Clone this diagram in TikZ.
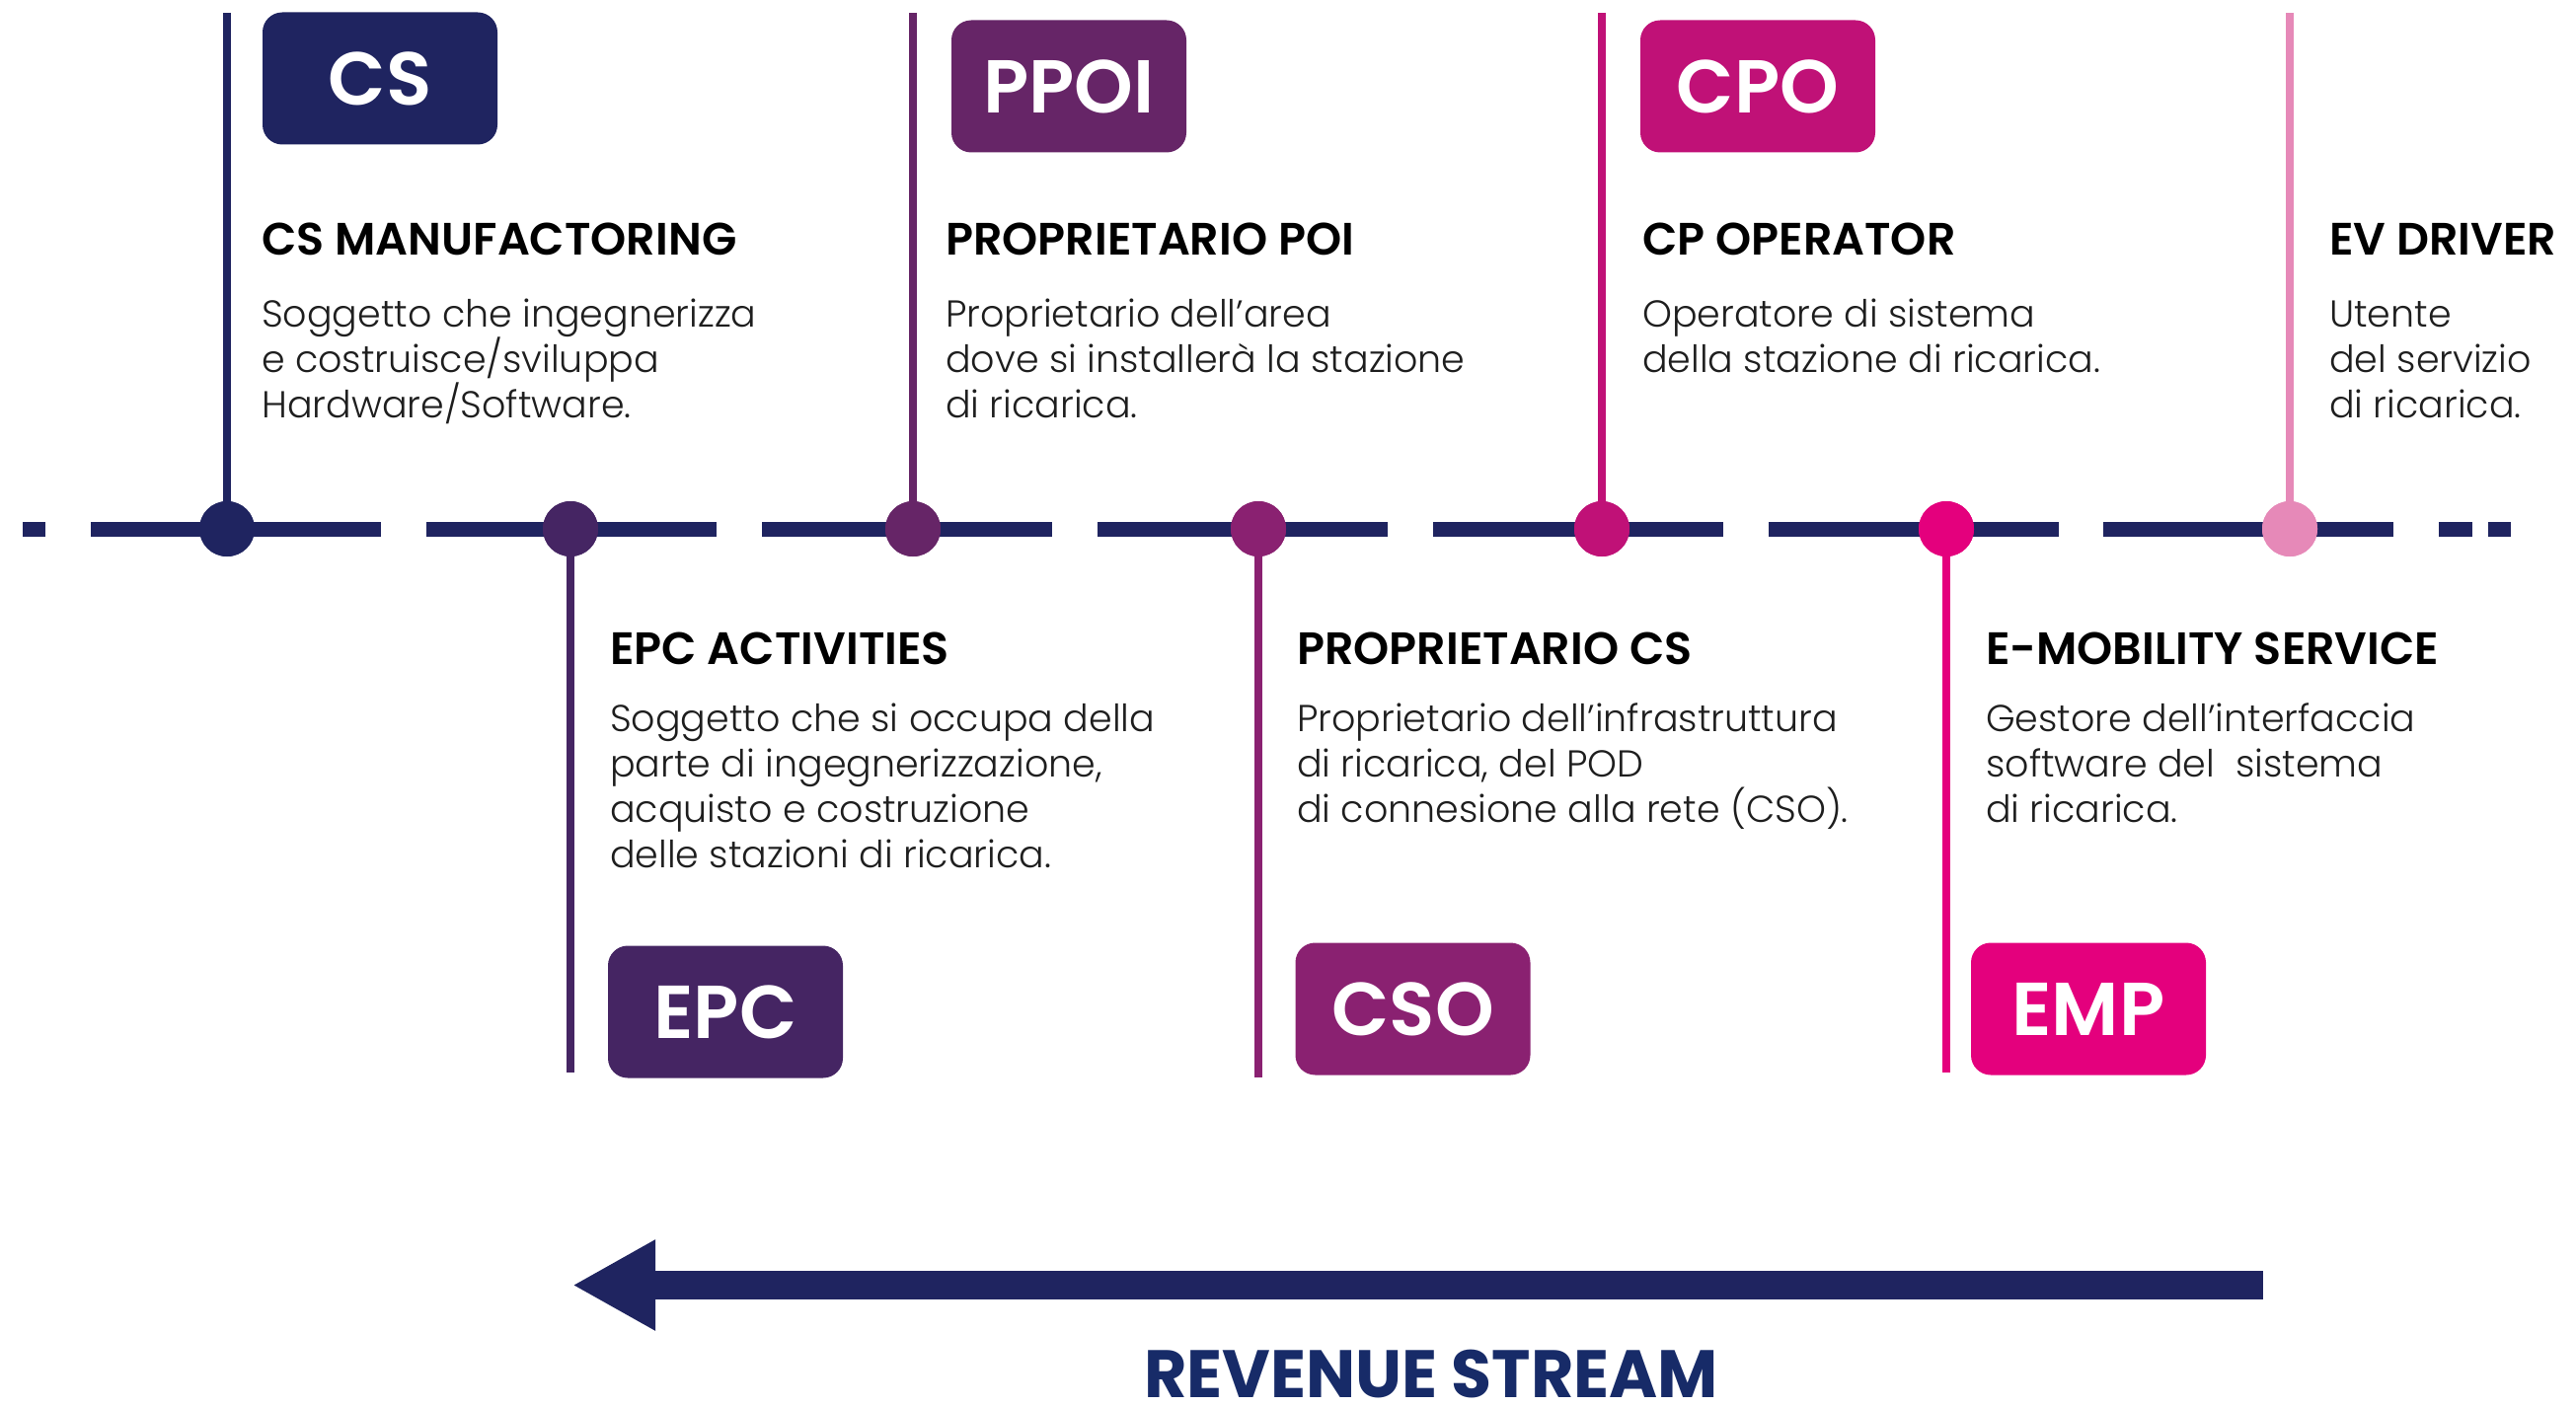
\documentclass[tikz,border=0pt]{standalone}
\usepackage{fontspec}
\setmainfont{Poppins}
\newfontfamily\lightf{Poppins Light}
\newfontfamily\semif{Poppins SemiBold}
\newfontfamily\medf{Poppins Medium}
\usetikzlibrary{arrows.meta}
\definecolor{navy}{RGB}{31,36,96}
\definecolor{epcc}{RGB}{69,37,99}
\definecolor{ppoic}{RGB}{102,37,103}
\definecolor{csoc}{RGB}{138,33,113}
\definecolor{cpoc}{RGB}{192,17,119}
\definecolor{empc}{RGB}{228,0,125}
\definecolor{evc}{RGB}{230,137,184}
\definecolor{revc}{RGB}{23,43,104}
\definecolor{bodyc}{RGB}{30,30,30}
\begin{document}
\begin{tikzpicture}[x=1pt,y=-1pt,
  tag/.style={rounded corners=20pt, minimum width=238pt, minimum height=134pt, inner sep=0pt, text=white, font=\semif\fontsize{76}{76}\selectfont},
  head/.style={anchor=base west, inner sep=0pt, text=black, font=\semif\fontsize{46}{46}\selectfont},
  body/.style={anchor=north west, inner sep=0pt, align=left, text=bodyc, font=\lightf\fontsize{38}{46}\selectfont},
  dot/.style={circle, minimum size=56pt, inner sep=0pt},
  stem/.style={line width=8pt},
  dashseg/.style={fill=navy}
]
\useasboundingbox (0,0) rectangle (2610,1426);

% dashed timeline
\foreach \a/\b in {23/46,92/386,432/726,772/1066,1112/1406,1452/1746,1792/2086,2131/2425,2471/2505,2521/2544}
  \fill[dashseg] (\a,528.5) rectangle (\b,543.5);

% dots (named anchors for the stems)
\node[dot, fill=navy]  (d1) at (230,536) {};
\node[dot, fill=epcc]  (d2) at (578,536) {};
\node[dot, fill=ppoic] (d3) at (925,536) {};
\node[dot, fill=csoc]  (d4) at (1275,536) {};
\node[dot, fill=cpoc]  (d5) at (1623,536) {};
\node[dot, fill=empc]  (d6) at (1972,536) {};
\node[dot, fill=evc]   (d7) at (2320,536) {};

% stems
\coordinate (t1) at (230,13);
\coordinate (b2) at (578,1087);
\coordinate (t3) at (925,13);
\coordinate (b4) at (1275,1092);
\coordinate (t5) at (1623,13);
\coordinate (b6) at (1972,1087);
\coordinate (t7) at (2320,13);
\draw[stem, navy]  (t1) -- (d1.center);
\draw[stem, epcc]  (d2.center) -- (b2);
\draw[stem, ppoic] (t3) -- (d3.center);
\draw[stem, csoc]  (d4.center) -- (b4);
\draw[stem, cpoc]  (t5) -- (d5.center);
\draw[stem, empc]  (d6.center) -- (b6);
\draw[stem, evc]   (t7) -- (d7.center);

% dots drawn again on top of stems
\fill[navy]  (d1) circle (28);
\fill[epcc]  (d2) circle (28);
\fill[ppoic] (d3) circle (28);
\fill[csoc]  (d4) circle (28);
\fill[cpoc]  (d5) circle (28);
\fill[empc]  (d6) circle (28);
\fill[evc]   (d7) circle (28);

% tags
\node[tag, fill=navy]  (cs)   at (385,79.5)    {CS};
\node[tag, fill=ppoic] (ppoi) at (1083,87.5)   {PPOI};
\node[tag, fill=cpoc]  (cpo)  at (1781,87.5)   {CPO};
\node[tag, fill=epcc]  (epc)  at (735,1025.5)  {EPC};
\node[tag, fill=csoc]  (cso)  at (1431.5,1022.5) {CSO};
\node[tag, fill=empc]  (emp)  at (2116,1022.5) {EMP};

% upper headings and texts
\node[head] (h1) at (265,258) {CS MANUFACTORING};
\node[body] (p1) at (265,291) {\rule{0pt}{40pt}Soggetto che ingegnerizza\\e costruisce/sviluppa\\Hardware/Software.};
\node[head] (h3) at (958,258) {PROPRIETARIO POI};
\node[body] (p3) at (958,291) {\rule{0pt}{40pt}Proprietario dell’area\\dove si installerà la stazione\\di ricarica.};
\node[head] (h5) at (1664,258) {CP OPERATOR};
\node[body] (p5) at (1664,291) {\rule{0pt}{40pt}Operatore di sistema\\della stazione di ricarica.};
\node[head] (h7) at (2360,258) {EV DRIVER};
\node[body] (p7) at (2360,291) {\rule{0pt}{40pt}Utente\\del servizio\\di ricarica.};

% lower headings and texts
\node[head] (h2) at (618,673) {EPC ACTIVITIES};
\node[body] (p2) at (618,701) {\rule{0pt}{40pt}Soggetto che si occupa della\\parte di ingegnerizzazione,\\acquisto e costruzione\\delle stazioni di ricarica.};
\node[head] (h4) at (1314,673) {PROPRIETARIO CS};
\node[body] (p4) at (1314,701) {\rule{0pt}{40pt}Proprietario dell’infrastruttura\\di ricarica, del POD\\di connesione alla rete (CSO).};
\node[head] (h6) at (2012,673) {E-MOBILITY SERVICE};
\node[body] (p6) at (2012,701) {\rule{0pt}{40pt}Gestore dell’interfaccia\\software del\ \ sistema\\di ricarica.};

% revenue arrow
\coordinate (arrS) at (2293,1302.5);
\coordinate (arrE) at (580,1302.5);
\draw[navy, line width=29pt, -{Triangle[length=84pt,width=86pt]}] (arrS) -- (arrE);
\node[anchor=base, inner sep=0pt, text=revc, font=\bfseries\fontsize{68}{68}\selectfont] (rev) at (1450,1416) {\scalebox{0.98}[1]{REVENUE STREAM}};
\end{tikzpicture}
\end{document}
